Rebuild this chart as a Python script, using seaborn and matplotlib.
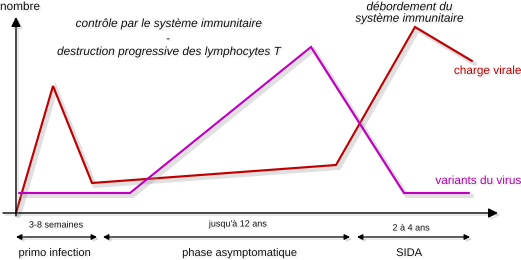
import matplotlib
matplotlib.use("Agg")
import matplotlib.pyplot as plt
import matplotlib.patheffects as pe
import seaborn as sns
import pandas as pd

# ---- data (schematic units, origin at the axis crossing) ----
charge_x = [0, 37, 76, 320, 399, 456]
charge_y = [0, 127, 30, 48, 186, 152]
variants_x = [3, 114, 295, 388, 453]
variants_y = [20, 20, 166, 20, 20]
series_names = ["charge virale", "variants du virus"]
series_colors = ["#c00000", "#c000c0"]

phase_labels = ["primo infection", "phase asymptomatique", "SIDA"]
phase_durations = ["3-8 semaines", "jusqu'à 12 ans", "2 à 4 ans"]
phase_bounds = [(0, 81), (87, 334), (341, 454)]

df = pd.concat([
    pd.DataFrame({"t": charge_x, "n": charge_y, "serie": series_names[0]}),
    pd.DataFrame({"t": variants_x, "n": variants_y, "serie": series_names[1]}),
], ignore_index=True)

sns.set_theme(style="white")
plt.rcParams["font.family"] = ["Liberation Sans", "DejaVu Sans"]

fig = plt.figure(figsize=(5.21, 2.60), dpi=100)
ax = fig.add_axes([0, 0, 1, 1])
ax.set_xlim(-16, 505)
ax.set_ylim(-47, 213)
ax.axis("off")

shadow_line = [pe.SimpleLineShadow(offset=(2, -2), shadow_color="#999999", alpha=0.3, linewidth=3.2), pe.Normal()]
shadow_thin = [pe.SimpleLineShadow(offset=(1.5, -1.5), shadow_color="#999999", alpha=0.3), pe.Normal()]
shadow_text = [pe.withSimplePatchShadow(offset=(1.2, -1.2), shadow_rgbFace="#aaaaaa", alpha=0.25)]

sns.lineplot(data=df, x="t", y="n", hue="serie", estimator=None, sort=False,
             palette=dict(zip(series_names, series_colors)), linewidth=1.55, legend=False, ax=ax)
for ln in ax.get_lines():
    ln.set_path_effects(shadow_line)
    ln.set_solid_joinstyle("miter")

# axes arrows
ax.annotate("", xy=(482, 0), xytext=(-13, 0),
            arrowprops=dict(arrowstyle="-|>", color="black", lw=1, mutation_scale=14,
                            shrinkA=0, shrinkB=0, path_effects=shadow_thin))
ax.annotate("", xy=(0, 196), xytext=(0, -3),
            arrowprops=dict(arrowstyle="-|>", color="black", lw=1, mutation_scale=14,
                            shrinkA=0, shrinkB=0, path_effects=shadow_thin))

ax.text(-16, 206, "nombre", fontsize=8.5, ha="left", va="center", color="#111111", path_effects=shadow_text)

# annotations
it = dict(fontsize=8.5, style="italic", ha="center", va="center", color="#111111", path_effects=shadow_text)
ax.text(152, 189, "contrôle par le système immunitaire", **it)
ax.text(152, 174, "-", **it)
ax.text(152, 161, "destruction progressive des lymphocytes T", **it)
ax.text(393, 200, "débordement du\nsystème immunitaire", linespacing=0.95, **it)

ax.text(505, 142, series_names[0], fontsize=8.5, ha="right", va="center", color=series_colors[0], path_effects=shadow_text)
ax.text(505, 32, series_names[1], fontsize=8.5, ha="right", va="center", color="#b000b0", path_effects=shadow_text)

# phases
dur_x = [40, 222, 395]
dur_y = [-12, -11, -15]
lab_x = [39, 224, 393]
for (a, b), dur, lab, dx, dy, lx in zip(phase_bounds, phase_durations, phase_labels, dur_x, dur_y, lab_x):
    ax.annotate("", xy=(b, -24), xytext=(a, -24),
                arrowprops=dict(arrowstyle="<|-|>", color="black", lw=0.9, mutation_scale=8,
                                shrinkA=0, shrinkB=0, path_effects=shadow_thin))
    ax.text(dx, dy, dur, fontsize=6.5, ha="center", va="center", color="#111111", path_effects=shadow_text)
    ax.text(lx, -40, lab, fontsize=8, ha="center", va="center", color="#111111", path_effects=shadow_text)

fig.savefig("out.png", dpi=100)
